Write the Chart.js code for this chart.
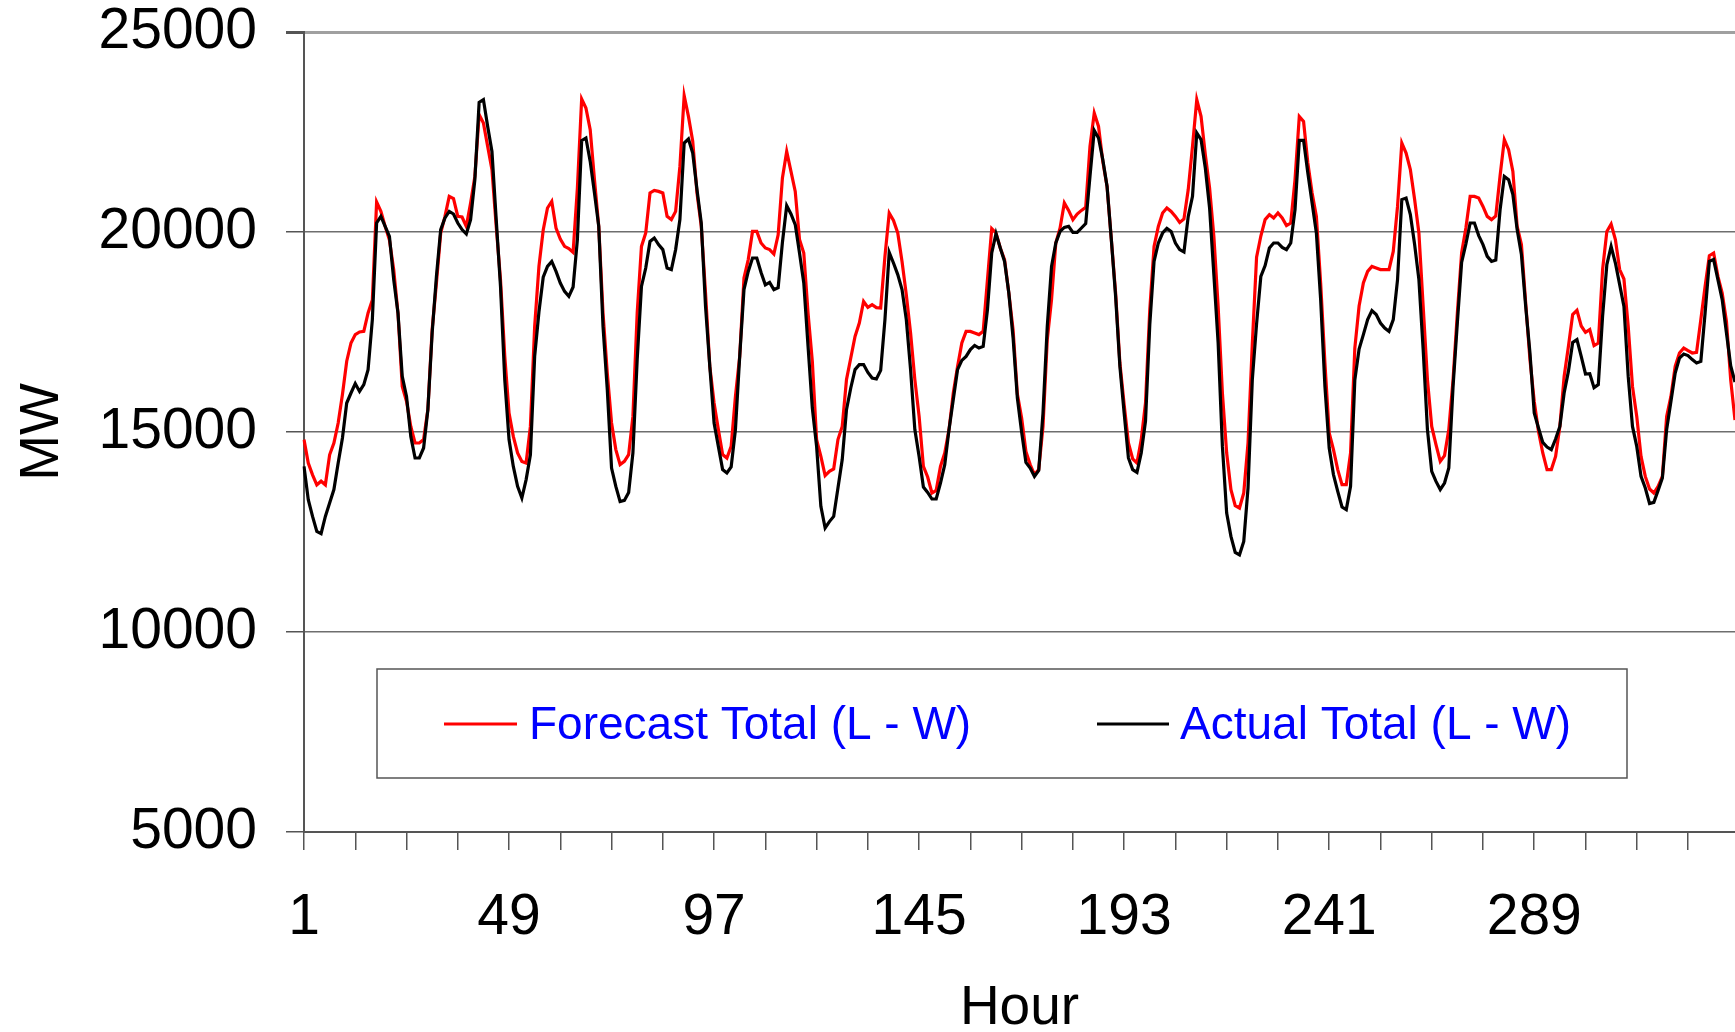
<!DOCTYPE html>
<html>
<head>
<meta charset="utf-8">
<script src="https://cdn.jsdelivr.net/npm/chart.js@4.4.0/dist/chart.umd.min.js"></script>
<style>
  html, body { margin: 0; padding: 0; background: #fff; overflow: hidden; }
  #wrap { width: 1735px; height: 1032px; }
</style>
</head>
<body>
<div id="wrap"><canvas id="grafico" width="1735" height="1032"></canvas></div>
<script>
// horas 1..336 (14 dias)
const horas = Array.from({ length: 336 }, (_, i) => String(i + 1));

// Forecast Total (L - W), MW - uma linha = 12 horas
const previsto = [
  14810, 14225, 13930, 13680, 13770, 13680, 14430, 14725, 15225, 15935, 16770, 17225,
  17435, 17500, 17515, 17975, 18300, 20750, 20515, 20140, 19800, 19060, 17975, 16140,
  15770, 15140, 14725, 14725, 14810, 15560, 17560, 18725, 19975, 20390, 20890, 20835,
  20390, 20375, 20140, 20725, 21390, 22935, 22725, 22140, 21560, 20140, 18810, 16900,
  15475, 14890, 14475, 14265, 14225, 15140, 17640, 19140, 20050, 20600, 20765, 20100,
  19825, 19640, 19585, 19490, 21100, 23325, 23100, 22560, 21310, 20140, 17975, 16475,
  15225, 14560, 14185, 14265, 14435, 15390, 17975, 19640, 19975, 20975, 21040, 21015,
  20975, 20390, 20310, 20515, 21640, 23410, 22890, 22270, 20975, 20140, 18475, 16640,
  15725, 15060, 14435, 14350, 14640, 15890, 16890, 18850, 19310, 20015, 20015, 19725,
  19600, 19560, 19450, 19930, 21350, 22015, 21515, 21015, 19810, 19475, 17975, 16765,
  14810, 14390, 13910, 14015, 14075, 14810, 15140, 16310, 16850, 17390, 17725, 18265,
  18115, 18185, 18110, 18100, 19390, 20475, 20290, 19975, 19265, 18435, 17475, 16310,
  15390, 14140, 13875, 13475, 13540, 14140, 14475, 15060, 15975, 16640, 17225, 17515,
  17515, 17475, 17435, 17515, 18810, 20085, 19975, 19600, 19310, 18475, 17550, 15950,
  15350, 14515, 14185, 13935, 14060, 15140, 17310, 18310, 19725, 20100, 20725, 20540,
  20310, 20450, 20540, 20615, 22140, 22975, 22640, 21765, 21140, 19810, 18475, 16725,
  15685, 14725, 14325, 14225, 14810, 15725, 18060, 19640, 20140, 20475, 20600, 20515,
  20390, 20240, 20325, 21060, 22140, 23310, 22890, 21935, 21100, 19890, 18140, 15975,
  14475, 13560, 13160, 13100, 13475, 14725, 17200, 19370, 19900, 20310, 20435, 20350,
  20475, 20350, 20160, 20225, 21310, 22890, 22765, 21725, 20975, 20390, 18725, 16725,
  14975, 14560, 14060, 13685, 13685, 14475, 17100, 18150, 18725, 19015, 19140, 19100,
  19060, 19060, 19060, 19515, 20640, 22225, 21975, 21560, 20810, 19975, 18140, 16310,
  15140, 14685, 14265, 14410, 15060, 16310, 17975, 19475, 20100, 20890, 20890, 20850,
  20640, 20390, 20310, 20400, 21400, 22310, 22060, 21515, 20140, 19685, 18225, 16810,
  15765, 15015, 14475, 14060, 14060, 14390, 15140, 16390, 17140, 17935, 18040, 17650,
  17490, 17560, 17160, 17225, 19060, 20015, 20200, 19810, 19060, 18825, 17640, 16140,
  15390, 14390, 13890, 13575, 13475, 13640, 13890, 15390, 15890, 16640, 16975, 17100,
  17035, 16975, 16990, 17810, 18640, 19410, 19475, 18890, 18475, 17765, 16300, 15300
];

// Actual Total (L - W), MW
const real = [
  14140, 13310, 12890, 12515, 12460, 12890, 13225, 13560, 14225, 14850, 15725, 15975,
  16210, 16015, 16185, 16560, 17810, 20225, 20390, 20140, 19890, 18810, 17975, 16390,
  15890, 14890, 14350, 14350, 14600, 15560, 17475, 18890, 20060, 20350, 20515, 20450,
  20225, 20060, 19950, 20310, 21310, 23240, 23310, 22640, 22015, 20310, 18640, 16300,
  14810, 14140, 13640, 13350, 13810, 14430, 16890, 18000, 18870, 19140, 19265, 19015,
  18725, 18515, 18390, 18625, 19810, 22285, 22350, 21765, 20975, 20140, 17640, 16060,
  14100, 13640, 13260, 13290, 13490, 14475, 16810, 18640, 19100, 19765, 19850, 19685,
  19560, 19100, 19060, 19560, 20310, 22225, 22325, 21975, 21060, 20225, 18140, 16640,
  15225, 14640, 14060, 13975, 14125, 15060, 16890, 18560, 19015, 19350, 19350, 18990,
  18680, 18740, 18560, 18610, 19740, 20660, 20450, 20185, 19475, 18725, 17140, 15600,
  14640, 13140, 12600, 12760, 12890, 13600, 14310, 15560, 16100, 16560, 16685, 16685,
  16490, 16350, 16325, 16540, 17810, 19490, 19225, 18935, 18560, 17810, 16560, 15060,
  14390, 13625, 13490, 13325, 13325, 13725, 14185, 15060, 15810, 16560, 16790, 16890,
  17060, 17165, 17100, 17140, 18060, 19475, 19960, 19600, 19265, 18475, 17350, 15850,
  15000, 14240, 14100, 13890, 14040, 15475, 17640, 19140, 19725, 20015, 20115, 20140,
  19990, 19990, 20100, 20210, 21390, 22540, 22350, 21810, 21140, 19810, 18390, 16640,
  15475, 14350, 14060, 13990, 14475, 15270, 17685, 19265, 19725, 19975, 20090, 20015,
  19725, 19560, 19500, 20390, 20890, 22475, 22310, 21600, 20600, 18935, 17225, 14640,
  12975, 12390, 11990, 11930, 12265, 13600, 16300, 17700, 18890, 19160, 19600, 19725,
  19725, 19615, 19560, 19725, 20560, 22290, 22290, 21475, 20725, 19975, 18310, 16140,
  14600, 13935, 13515, 13125, 13060, 13640, 16300, 17075, 17435, 17810, 18035, 17935,
  17725, 17600, 17515, 17810, 18810, 20810, 20850, 20435, 19685, 18810, 17060, 15060,
  14015, 13765, 13560, 13725, 14100, 16140, 17725, 19240, 19700, 20225, 20225, 19910,
  19685, 19390, 19265, 19300, 20550, 21390, 21310, 20935, 20060, 19435, 18140, 16975,
  15475, 15100, 14740, 14625, 14560, 14825, 15140, 15975, 16515, 17240, 17310, 16890,
  16450, 16460, 16110, 16185, 17890, 19185, 19640, 19225, 18685, 18140, 16390, 15140,
  14640, 13890, 13600, 13210, 13240, 13540, 13850, 15060, 15765, 16475, 16850, 16950,
  16910, 16810, 16725, 16765, 17975, 19265, 19310, 18810, 18310, 17475, 16650, 16250
];

const ticksY = [5000, 10000, 15000, 20000, 25000];
const passoMarca = 12;   // marca a cada 12 horas
const passoRotulo = 48;  // rotulo a cada 48 horas

const fonte = 'Liberation Sans, Arial, sans-serif';

// legenda dentro do grafico, com caixa
const legendaInterna = {
  id: 'legendaInterna',
  afterDatasetsDraw(chart) {
    const c = chart.ctx;
    c.save();
    c.fillStyle = '#ffffff';
    c.fillRect(377, 669, 1250, 109);
    c.strokeStyle = '#555555';
    c.lineWidth = 1.5;
    c.strokeRect(377, 669, 1250, 109);
    const itens = [{ x0: 444, x1: 517, tx: 529 }, { x0: 1097, x1: 1169, tx: 1180 }];
    c.font = '46px ' + fonte;
    c.textBaseline = 'alphabetic';
    chart.data.datasets.forEach((ds, i) => {
      const it = itens[i];
      c.strokeStyle = ds.borderColor;
      c.lineWidth = 3;
      c.beginPath();
      c.moveTo(it.x0, 724);
      c.lineTo(it.x1, 724);
      c.stroke();
      c.fillStyle = '#0000ff';
      c.fillText(ds.label, it.tx, 739);
    });
    c.restore();
  }
};

const ctx = document.getElementById('grafico').getContext('2d');
new Chart(ctx, {
  type: 'line',
  data: {
    labels: horas,
    datasets: [
      {
        label: 'Forecast Total (L - W)',
        data: previsto,
        borderColor: '#ff0000',
        borderWidth: 3.2,
        pointRadius: 0,
        tension: 0,
        fill: false,
        order: 1
      },
      {
        label: 'Actual Total (L - W)',
        data: real,
        borderColor: '#000000',
        borderWidth: 3.2,
        pointRadius: 0,
        tension: 0,
        fill: false,
        order: 0
      }
    ]
  },
  options: {
    responsive: false,
    devicePixelRatio: 1,
    animation: false,
    layout: { padding: { top: 32, right: 0, bottom: 0, left: 0 } },
    plugins: {
      legend: { display: false },
      tooltip: { enabled: false }
    },
    scales: {
      x: {
        type: 'category',
        offset: false,
        grid: { drawOnChartArea: false, tickLength: 18, color: '#555555', lineWidth: 1.5 },
        border: { display: true, color: '#555555', width: 2 },
        ticks: {
          autoSkip: false,
          maxRotation: 0,
          padding: 40,
          color: '#000',
          font: { family: fonte, size: 57, lineHeight: 1 },
          callback: function (v) {
            return v % passoRotulo === 0 ? this.getLabelForValue(v) : '';
          }
        },
        afterBuildTicks: s => { s.ticks = s.ticks.filter(t => t.value % passoMarca === 0); },
        afterFit: s => { s.height = 200; s.paddingLeft = 0; s.paddingRight = 0; },
        title: {
          display: true,
          text: 'Hour',
          color: '#000',
          font: { family: fonte, size: 55, lineHeight: 0.6 },
          padding: { top: 0, bottom: 7 }
        }
      },
      y: {
        min: 5000,
        max: 25000,
        afterBuildTicks: s => { s.ticks = ticksY.map(v => ({ value: v })); },
        ticks: {
          padding: 29,
          color: '#000',
          font: { family: fonte, size: 57, lineHeight: 1 },
          callback: v => String(v)
        },
        grid: {
          color: c => (c.tick && c.tick.value === 25000 ? '#a0a0a0' : '#6e6e6e'),
          lineWidth: c => (c.tick && c.tick.value === 25000 ? 3 : 1.5),
          tickLength: 18,
          tickColor: '#555555'
        },
        border: { display: true, color: '#555555', width: 2 },
        afterFit: s => { s.width = 304; s.paddingTop = 0; s.paddingBottom = 0; },
        title: {
          display: true,
          text: 'MW',
          color: '#000',
          font: { family: fonte, size: 55, lineHeight: 1 },
          padding: { top: 15, bottom: 0 }
        }
      }
    }
  },
  plugins: [legendaInterna]
});
</script>
</body>
</html>
